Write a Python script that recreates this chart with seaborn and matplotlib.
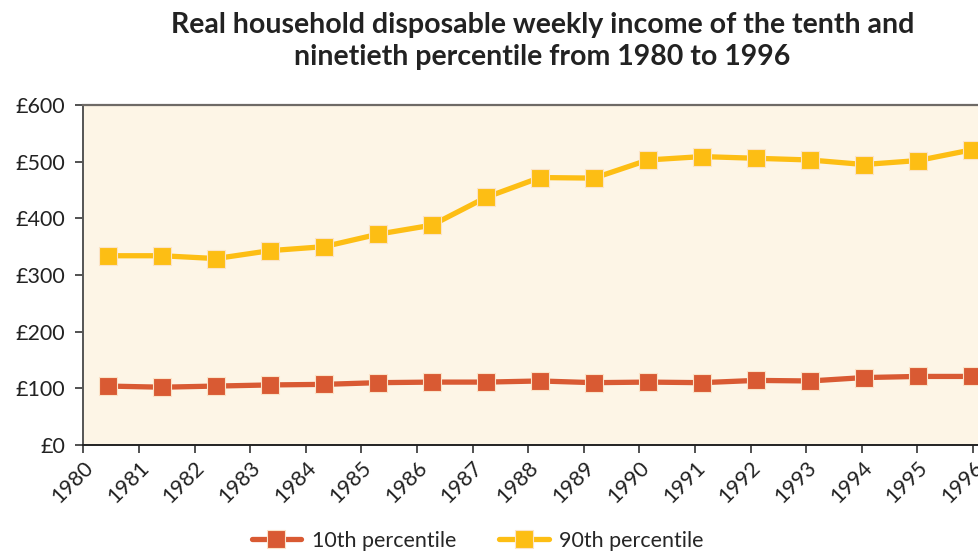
import numpy as np
import pandas as pd
import matplotlib
matplotlib.use("Agg")
import matplotlib.pyplot as plt
import seaborn as sns

# =========================
# DATA
# =========================

years = list(range(1980, 1997))
p10 = [104, 102, 104, 106, 107, 110, 111, 111, 113, 110, 111, 110, 114, 113, 119, 121, 121]
p90 = [334, 334, 329, 343, 350, 372, 388, 437, 472, 471, 503, 509, 506, 503, 495, 502, 521]
series_names = ["10th percentile", "90th percentile"]
y_ticks = [0, 100, 200, 300, 400, 500, 600]
title = "Real household disposable weekly income of the tenth and\nninetieth percentile from 1980 to 1996"

df = pd.DataFrame({
    "idx": list(range(len(years))) * 2,
    "value": p10 + p90,
    "series": [series_names[0]] * len(years) + [series_names[1]] * len(years),
})

# =========================
# STYLE
# =========================

sns.set_style("white")
plt.rcParams["font.family"] = ["Lato", "DejaVu Sans"]

colors = {"10th percentile": "#D95A33", "90th percentile": "#FDBE14"}

fig = plt.figure(figsize=(9.79, 5.53), dpi=100)
ax = fig.add_axes([0.0851, 0.1953, 0.9149, 0.6148])
ax.set_facecolor("#FDF5E6")

sns.lineplot(data=df, x="idx", y="value", hue="series", style="series",
             palette=colors, markers=["s", "s"], dashes=False,
             linewidth=3.8, markersize=13, markeredgewidth=0.8,
             ax=ax, legend=True)
for line in ax.get_lines():
    line.set_markeredgecolor("#FBE3C8")

# =========================
# AXES
# =========================

ax.set_xlim(-0.457, 16.13)
ax.set_ylim(0, 600)
ax.set_xticks(np.linspace(-0.457, 16.02, len(years)))
ax.set_xticklabels([str(y) for y in years], rotation=45, ha="right",
                   rotation_mode="anchor", fontsize=15.5, color="#222222")
ax.set_yticks(y_ticks)
ax.set_yticklabels([f"£{v}" for v in y_ticks], fontsize=15.5, color="#222222")
ax.tick_params(axis="both", which="both", length=6, width=1.2, color="#333333",
               direction="out", bottom=True, left=True)
ax.tick_params(axis="y", pad=7)
ax.tick_params(axis="x", pad=3)
ax.set_xlabel("")
ax.set_ylabel("")

ax.spines["right"].set_visible(False)
ax.spines["top"].set_color("#6E6A66")
ax.spines["top"].set_linewidth(1.6)
ax.spines["left"].set_color("#555555")
ax.spines["left"].set_linewidth(1.4)
ax.spines["bottom"].set_color("#222222")
ax.spines["bottom"].set_linewidth(1.4)

# =========================
# TITLE + LEGEND
# =========================

fig.text(0.554, 0.978, title, ha="center", va="top", fontsize=20.5,
         fontweight="bold", color="#222222", linespacing=1.3)

handles, labels = ax.get_legend_handles_labels()
ax.get_legend().remove()
fig.legend(handles, labels, loc="center", bbox_to_anchor=(0.488, 0.022),
           ncol=2, frameon=False, fontsize=15.5, handlelength=2.3,
           columnspacing=2.0, handletextpad=0.5)

fig.savefig("out.png", dpi=100)
